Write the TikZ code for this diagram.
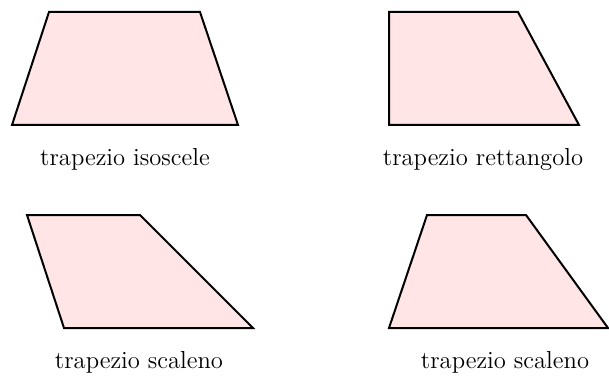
\documentclass[tikz,border=0pt]{standalone}
\usepackage{tikz}
\usetikzlibrary{positioning, calc}

\begin{document}
\begin{tikzpicture}[
  x=0.5pt, y=-0.5pt,
  trap/.style={draw=black, fill=red!10, line width=1pt, line join=miter},
  caption/.style={font=\fontsize{12.3}{15}\selectfont, inner sep=0pt}
]
\useasboundingbox (0,0) rectangle (609,379);

% trapezio isoscele
\draw[trap] (12,125) -- (49,12) -- (200,12) -- (238,125) -- cycle;
\node[caption] (isoscele) at (125,159) {trapezio isoscele};

% trapezio rettangolo
\draw[trap] (389,125) -- (389,12) -- (518,12) -- (579,125) -- cycle;
\node[caption] (rettangolo) at (483,159) {trapezio rettangolo};

% trapezio scaleno (1)
\draw[trap] (64,328) -- (27,215) -- (140,215) -- (253,328) -- cycle;
\node[caption] (scalenoA) at (139,362) {trapezio scaleno};

% trapezio scaleno (2)
\draw[trap] (389,328) -- (427,215) -- (526,215) -- (608,328) -- cycle;
\node[caption] (scalenoB) at (505,362) {trapezio scaleno};

\end{tikzpicture}
\end{document}
